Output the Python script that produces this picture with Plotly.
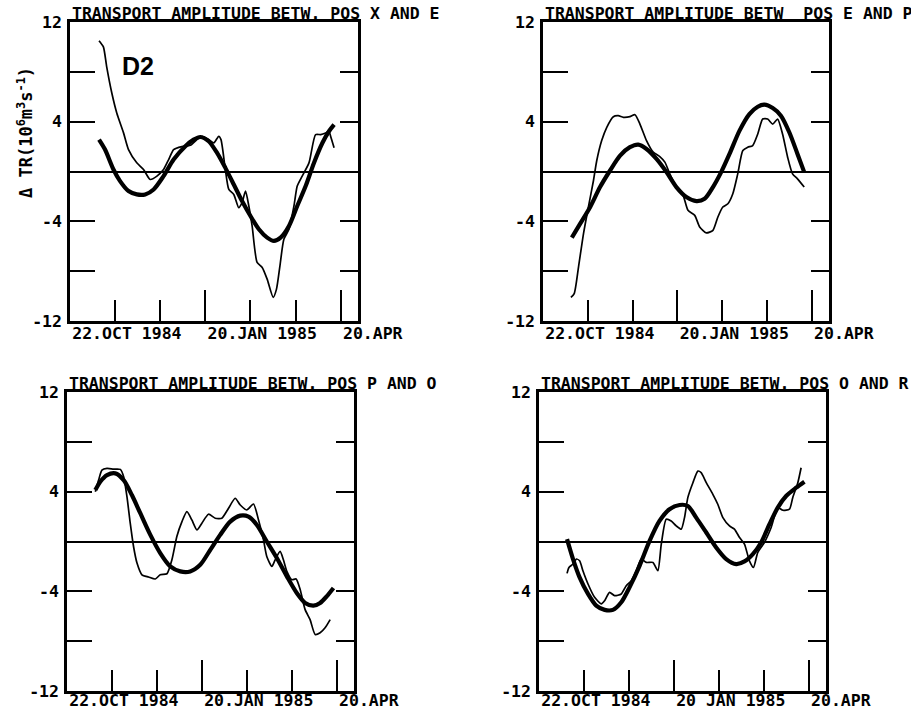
import plotly.graph_objects as go

# ---------------- data (days after 22 Oct 1984, transport anomaly 10^6 m^3/s) -------------
p1_thin_day = [19.3, 22.2, 24.4, 27.8, 31.1, 35.6, 38.9, 44.4, 48.9, 53.3, 57.8, 62.2, 65.6, 68.9,
               74.4, 80, 84.4, 87.8, 92.2, 95.6, 98.9, 100.4, 103.3, 105.6, 108.9, 112.2, 114.4,
               116.7, 118.9, 121.1, 124.4, 127.8, 131.1, 135.1, 137.3, 139.6, 142.2, 145.6, 148.9,
               151.1, 154.4, 158.9, 163.3, 166.7, 170, 172.2, 173.3, 175.6]
p1_thin_val = [10.5, 10.0, 8.4, 6.3, 4.7, 3.1, 1.76, 0.7, 0.16, -0.64, -0.37, 0.16, 0.96, 1.76,
               2.0, 2.1, 2.56, 2.83, 2.56, 2.3, 2.83, 2.56, 0.16, -1.44, -1.84, -2.9, -2.5,
               -1.57, -2.77, -4.37, -7.3, -7.7, -8.64, -10.1, -9.44, -7.57, -5.44, -4.64, -2.77,
               -1.17, -0.37, 0.69, 2.96, 2.96, 3.09, 3.23, 2.83, 1.9]
p1_thick_day = [19.3, 23.3, 28.9, 33.3, 38.9, 44.4, 50, 55.6, 62.2, 68.9, 76.7, 82.2, 86.7, 92.2,
                97.8, 103.3, 108.9, 114.4, 120, 125.6, 131.1, 135.6, 140, 145.6, 151.1, 156.7,
                162.2, 167.8, 172.2, 175.6]
p1_thick_val = [2.56, 1.76, 0.16, -0.77, -1.57, -1.84, -1.84, -1.44, -0.37, 0.96, 2.03, 2.56, 2.77,
                2.43, 1.49, 0.29, -1.04, -2.37, -3.57, -4.64, -5.31, -5.57, -5.31, -4.37, -2.77,
                -1.17, 0.69, 2.29, 3.23, 3.76]

p2_thin_day = [18.7, 20.9, 23.8, 27.1, 30.4, 33.8, 36, 39.3, 42.7, 47.1, 50.4, 53.8, 58.2, 61.6,
               64.9, 69.3, 73.8, 78.2, 81.6, 84.9, 89.3, 93.8, 97.1, 101.6, 104.9, 109.3, 113.8,
               117.1, 120.4, 123.8, 127.1, 130.4, 133.8, 137.1, 140.4, 143.8, 147.1, 150.4, 153.8,
               157.1, 160.4, 163.8, 167.1, 170.4, 174.9]
p2_thin_val = [-10.1, -9.8, -7.65, -5.0, -2.85, -0.72, 0.88, 2.48, 3.55, 4.4, 4.48, 4.35, 4.4, 4.56,
               3.81, 2.48, 1.55, 1.2, 0.75, -0.19, -1.25, -1.92, -3.12, -3.52, -4.45, -4.93, -4.72,
               -3.65, -2.85, -2.59, -1.79, -0.19, 1.68, 1.95, 2.08, 3.01, 4.21, 4.21, 3.81,
               4.21, 3.01, 1.15, -0.19, -0.59, -1.25]
p2_thick_day = [19.3, 24.9, 31.6, 38.2, 44.9, 51.6, 58.2, 63.8, 69.3, 76, 82.7, 89.3, 96, 102.7,
                108.2, 113.8, 119.3, 124.9, 131.6, 138.2, 143.8, 148.2, 153.8, 159.3, 164.9,
                170.4, 174.9]
p2_thick_val = [-5.31, -4.19, -2.85, -1.25, 0.08, 1.28, 1.95, 2.16, 1.81, 1.01, -0.05, -1.25, -2.05,
                -2.37, -2.19, -1.25, -0.05, 1.41, 3.28, 4.61, 5.2, 5.36, 5.09, 4.48, 3.15, 1.41,
                -0.05]

p3_thin_day = [18.9, 21.1, 23.3, 26.7, 31.1, 35.6, 37.8, 40, 42.2, 44.4, 46.7, 50, 54.4, 58.9,
               62.2, 66.7, 70, 73.3, 76.7, 80, 83.3, 86.7, 90, 94.4, 98.9, 103.3, 107.8, 112.2,
               115.6, 120, 124.4, 127.8, 131.1, 133.3, 136.7, 138.9, 142.2, 144.4, 146.7, 150,
               152.9, 155.6, 158.9, 162.2, 165.6, 168.9, 172.2, 175.6]
p3_thin_val = [4.0, 4.93, 5.73, 5.87, 5.81, 5.79, 5.2, 3.6, 1.47, -0.4, -1.73, -2.67, -2.85, -3.01,
               -2.67, -2.59, -1.47, 0.4, 1.6, 2.4, 1.73, 0.93, 1.47, 2.19, 1.87, 1.87, 2.67, 3.47,
               2.93, 2.53, 3.01, 1.73, 0.13, -1.2, -2.0, -1.47, -0.8, -1.47, -2.4, -3.07,
               -3.01, -3.87, -5.47, -6.27, -7.47, -7.33, -6.93, -6.27]
p3_thick_day = [18.9, 22.2, 26.7, 32.2, 37.8, 43.3, 48.9, 55.6, 62.2, 68.9, 75.6, 82.2, 88.9, 95.6,
                102.2, 108.9, 115.6, 121.1, 126.7, 133.3, 140, 146.7, 153.3, 158.9, 164.4, 168.9,
                173.3, 177.8]
p3_thick_val = [4.13, 4.8, 5.33, 5.47, 4.93, 3.73, 2.27, 0.53, -0.93, -2.0, -2.4, -2.4, -1.87, -0.67,
                0.53, 1.6, 2.08, 2.0, 1.33, 0.0, -1.33, -2.8, -4.13, -4.93, -5.15, -4.93, -4.4,
                -3.73]

p4_thin_day = [18.7, 20, 22.7, 24.9, 27.1, 29.3, 32.7, 37.1, 41.6, 43.8, 47.1, 50.4, 54.9, 58.2,
               61.6, 64.9, 68.2, 71.6, 76, 79.3, 81.6, 84.9, 88.2, 91.6, 94.9, 97.1, 99.3, 102.7,
               106, 108.2, 111.6, 116, 119.3, 122.7, 127.1, 130.4, 133.8, 137.1, 140.4, 143.1,
               146, 150.4, 154.9, 159.3, 162.7, 167.1, 169.3, 172.7, 174.9]
p4_thin_val = [-2.56, -2.08, -1.81, -1.41, -1.55, -2.35, -3.41, -4.48, -5.01, -4.75, -4.08, -4.35,
               -4.21, -3.55, -3.15, -2.35, -1.41, -1.68, -1.68, -2.35, -0.21, 1.79, 1.65, 1.25,
               0.99, 1.92, 3.52, 4.72, 5.65, 5.52, 4.72, 3.79, 2.99, 1.92, 1.25, 0.99, 0.32,
               -0.21, -1.55, -2.08, -0.88, -0.08, 1.12, 2.72, 2.51, 2.59, 3.52, 4.72, 5.92]
p4_thick_day = [18.7, 22.7, 27.1, 32.7, 38.2, 43.8, 49.3, 54.9, 60.4, 67.1, 73.8, 80.4, 87.1, 93.8,
                99.3, 104.9, 111.6, 118.2, 124.9, 131.6, 137.1, 142.7, 148.2, 153.8, 159.3, 164.9,
                171.6, 177.1]
p4_thick_val = [0.19, -1.41, -2.88, -4.21, -5.15, -5.49, -5.49, -4.88, -3.68, -1.95, 0.05, 1.65,
                2.59, 2.93, 2.85, 1.92, 0.72, -0.48, -1.41, -1.81, -1.6, -1.01, -0.08, 1.39, 2.72,
                3.65, 4.32, 4.8]

titles = ["TRANSPORT AMPLITUDE BETW. POS X AND E",
          "TRANSPORT AMPLITUDE BETW  POS E AND P",
          "TRANSPORT AMPLITUDE BETW. POS P AND O",
          "TRANSPORT AMPLITUDE BETW. POS O AND R"]
x_label_days = [0, 90, 180]
x_labels = [["22.OCT 1984", "20.JAN 1985", "20.APR"],
            ["22.OCT 1984", "20.JAN 1985", "20.APR"],
            ["22.OCT 1984", "20.JAN 1985", "20.APR"],
            ["22.OCT 1984", "20 JAN 1985", "20.APR"]]
x_minor_days = [30, 60, 120, 150]
y_label_vals = [-12, -4, 4, 12]
y_label_text = ["-12", "-4", "4", "12"]
y_minor_vals = [-8, 8]
y_right_tick_vals = [-8, -4, 4, 8]
panel_label = "D2"
y_title = "Δ TR(10<sup>6</sup>m<sup>3</sup>s<sup>-1</sup>)"

thin = [(p1_thin_day, p1_thin_val), (p2_thin_day, p2_thin_val),
        (p3_thin_day, p3_thin_val), (p4_thin_day, p4_thin_val)]
thick = [(p1_thick_day, p1_thick_val), (p2_thick_day, p2_thick_val),
         (p3_thick_day, p3_thick_val), (p4_thick_day, p4_thick_val)]

# ---------------- layout geometry ----------------
W, H = 911, 712
boxes = [(70, 358, 22, 321), (543, 829, 22, 321), (67, 354, 392, 691), (539, 826, 392, 691)]
x_label_standoff = [-5, -5, -8, -8]

MONO = "DejaVu Sans Mono"
FS = 16.5
TXT = dict(family=MONO, size=FS, color="black", weight="bold")
fig = go.Figure()
layout = dict(template="none", width=W, height=H, margin=dict(l=0, r=0, t=0, b=0, autoexpand=False),
              paper_bgcolor="white", plot_bgcolor="white", showlegend=False, font=TXT)
annotations = []
for i in range(4):
    n = i + 1
    L, R, T, B = boxes[i]
    xd = [L / W, R / W]
    yd = [1 - B / H, 1 - T / H]
    xa = "xaxis" if n == 1 else f"xaxis{n}"
    ya = "yaxis" if n == 1 else f"yaxis{n}"
    yr = f"yaxis{n + 4}"
    xref = "x" if n == 1 else f"x{n}"
    yref = "y" if n == 1 else f"y{n}"
    layout[xa] = dict(domain=xd, anchor=yref, range=[0, 191.5], showgrid=False, zeroline=False,
                      automargin=False,
                      showline=True, mirror=True, linecolor="black", linewidth=2.5,
                      tickmode="array", tickvals=x_label_days, ticktext=x_labels[i],
                      ticks="inside", ticklen=31, tickwidth=2, tickcolor="black",
                      ticklabelposition="outside right", ticklabelstandoff=x_label_standoff[i],
                      tickfont=TXT,
                      minor=dict(tickmode="array", tickvals=x_minor_days, ticks="inside",
                                 ticklen=21, tickwidth=2, tickcolor="black", showgrid=False))
    layout[ya] = dict(domain=yd, anchor=xref, range=[-12, 12], showgrid=False, automargin=False,
                      zeroline=True, zerolinecolor="black", zerolinewidth=2,
                      showline=True, mirror=True, linecolor="black", linewidth=2.5,
                      tickmode="array", tickvals=y_label_vals, ticktext=y_label_text,
                      ticks="inside", ticklen=25, tickwidth=2, tickcolor="black",
                      ticklabelstandoff=2, tickfont=TXT,
                      minor=dict(tickmode="array", tickvals=y_minor_vals, ticks="inside",
                                 ticklen=25, tickwidth=2, tickcolor="black", showgrid=False))
    layout[yr] = dict(overlaying=yref, anchor=xref, side="right", range=[-12, 12],
                      showgrid=False, zeroline=False, showline=False, automargin=False,
                      tickmode="array", tickvals=y_right_tick_vals, showticklabels=False,
                      ticks="inside", ticklen=18, tickwidth=2, tickcolor="black")
    yr_ref = f"y{n + 4}"
    fig.add_trace(go.Scatter(x=thick[i][0], y=thick[i][1], xaxis=xref, yaxis=yref,
                             mode="lines", line=dict(color="black", width=4.2, shape="spline",
                                                     smoothing=0.8), hoverinfo="skip"))
    fig.add_trace(go.Scatter(x=thin[i][0], y=thin[i][1], xaxis=xref, yaxis=yr_ref,
                             mode="lines", line=dict(color="black", width=1.7, shape="spline",
                                                     smoothing=0.6), hoverinfo="skip"))
    annotations.append(dict(text=titles[i], xref=f"{xref} domain", yref=f"{yref} domain",
                            x=0, y=1, xanchor="left", yanchor="bottom", showarrow=False,
                            yshift=-3, font=TXT))

annotations.append(dict(text=panel_label, xref="x", yref="y", x=33, y=8.5, xanchor="left",
                        yanchor="middle", showarrow=False,
                        font=dict(family="Liberation Sans", size=25, color="black",
                                  weight="bold")))
annotations.append(dict(text=y_title, xref="paper", yref="paper", x=25 / W, y=1 - 133 / H,
                        xanchor="center", yanchor="middle", textangle=-90, showarrow=False,
                        font=dict(family=MONO, size=17, color="black", weight="bold")))
layout["annotations"] = annotations
fig.update_layout(**layout)
fig.write_html("out.html")
